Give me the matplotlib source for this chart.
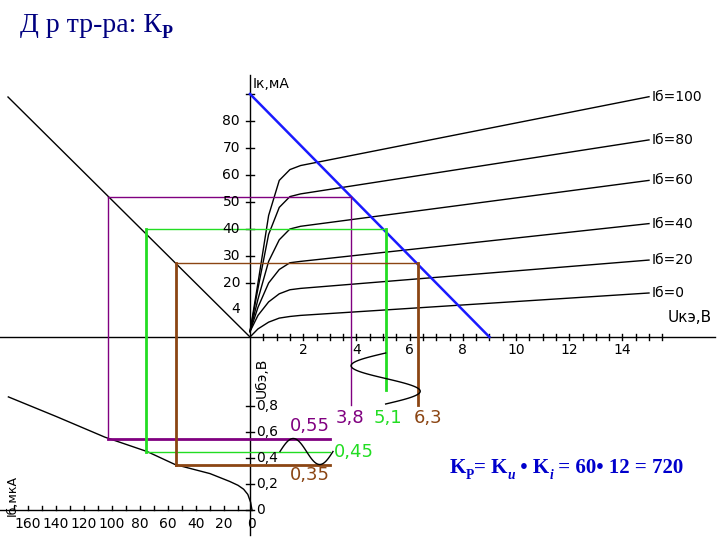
import numpy as np
import matplotlib.pyplot as plt

# output characteristics: Uce (V) points and Ic (mA) for each Ib
ib_labels = ["100", "80", "60", "40", "20", "0"]
uce_pts = [0.0, 0.3, 0.7, 1.1, 1.5, 1.9, 15.0]
ic_curves = [
    [2, 20, 45, 58, 62, 63.5, 89],
    [2, 18, 38, 48, 52, 53, 73],
    [2, 14, 28, 36, 40, 41, 58],
    [2, 11, 20, 25, 27.5, 28, 42],
    [2, 8, 13, 16, 17.5, 18, 28.5],
    [0, 3, 5.5, 7, 7.6, 8, 16.3],
]
# input characteristic: Ib (uA) vs Ube (V)
ib_in = [0, 1, 3, 6, 10, 16, 30, 55, 75, 105, 140, 174]
ube_in = [0.0, 0.06, 0.12, 0.16, 0.19, 0.22, 0.28, 0.35, 0.45, 0.56, 0.72, 0.87]
# working points: (Uce, Ic, Ib, Ube, colour)
points = [
    (3.8, 52, 103, 0.55, "#800080"),
    (5.1, 40, 76, 0.45, "#22dd22"),
    (6.3, 27.5, 54, 0.35, "#8B4513"),
]
uce_ticks = [2, 4, 6, 8, 10, 12, 14]
ic_ticks = [20, 30, 40, 50, 60, 70, 80]
ube_ticks = [0, 0.2, 0.4, 0.6, 0.8]
ib_ticks = [0, 20, 40, 60, 80, 100, 120, 140, 160]

# pixel mapping of the four quadrants
X0, Y0 = 250, 337
def ux(u): return X0 + 26.6 * np.asarray(u)
def iy(i): return Y0 - 2.7 * np.asarray(i)
def by(v): return 510 - 130 * np.asarray(v)
def bx(b): return 252 - 1.4 * np.asarray(b)

fig = plt.figure(figsize=(7.2, 5.4), dpi=100)
ax = fig.add_axes([0, 0, 1, 1])
ax.set_xlim(0, 720)
ax.set_ylim(540, 0)
ax.axis("off")
k = dict(color="black", lw=1)

# axes
ax.plot([250, 250], [75, 535], **k)
ax.plot([0, 715], [Y0, Y0], **k)
ax.plot([0, 252], [510, 510], **k)
for u in np.arange(0.5, 16, 0.5):
    ax.plot([ux(u)] * 2, [Y0 - 3, Y0 + 3], **k)
for u in uce_ticks:
    ax.text(ux(u), 350, str(u), ha="center", va="center", fontsize=10)
for i in ic_ticks:
    ax.plot([246, 254], [iy(i)] * 2, **k)
    ax.text(240, iy(i), str(i), ha="right", va="center", fontsize=10)
ax.text(240, 309, "4", ha="right", va="center", fontsize=10)
ax.plot([246, 254], [iy(90)] * 2, **k)
for v in ube_ticks:
    ax.plot([246, 254], [by(v)] * 2, **k)
    ax.text(256, by(v), str(v).replace(".", ","), ha="left", va="center", fontsize=10)
for b in np.arange(10, 175, 10):
    ax.plot([bx(b)] * 2, [506, 510], **k)
for b in ib_ticks:
    ax.text(bx(b), 524, str(b), ha="center", va="center", fontsize=10)
ax.text(253, 88, "Iк,мА", fontsize=10)
ax.text(668, 322, "Uкэ,В", fontsize=11)
ax.text(262, 378, "Uбэ,В", fontsize=10, rotation=90, ha="center", va="center")
ax.text(12, 495, "Iб,мкА", fontsize=9, rotation=90, ha="center", va="center")

# output curves
for lab, ic in zip(ib_labels, ic_curves):
    ax.plot(ux(uce_pts), iy(ic), **k)
    ax.text(ux(uce_pts[-1]) + 3, iy(ic[-1]), "Iб=" + lab, fontsize=10, va="center")

# transfer 45 deg line and input curve
ax.plot([8, 250], [97, 337], **k)
ax.plot(bx(ib_in), by(ube_in), **k)

# load line
ax.plot(ux([0, 9]), iy([90, 0]), color="#1a1aff", lw=1.8)

# working point projections
for n, (u, i, b, v, c) in enumerate(points):
    lw = 2 if n else 1
    ax.plot([bx(b), ux(u)], [iy(i), iy(i)], color=c, lw=1)
    ax.plot([ux(u), ux(u)], [iy(i), 405 if n != 1 else 390], color=c, lw=lw)
    ax.plot([bx(b), bx(b)], [iy(i), by(v)], color=c, lw=lw)
    ax.plot([bx(b), 330], [by(v), by(v)], color=c, lw=2 if n != 1 else 1)
ax.text(350, 418, "3,8", color="#800080", fontsize=13, ha="center", va="center")
ax.text(388, 418, "5,1", color="#22dd22", fontsize=13, ha="center", va="center")
ax.text(428, 418, "6,3", color="#8B4513", fontsize=13, ha="center", va="center")
ax.text(290, 426, "0,55", color="#800080", fontsize=13, va="center")
ax.text(334, 452, "0,45", color="#22dd22", fontsize=13, va="center")
ax.text(290, 475, "0,35", color="#8B4513", fontsize=13, va="center")

# signals
t = np.linspace(0, 2 * np.pi, 80)
ax.plot(280 + 53 * t / (2 * np.pi), by(0.45 + 0.1 * np.sin(t)), **k)
ax.plot(ux(5.1 - 1.3 * np.sin(t)), 353 + 51 * t / (2 * np.pi), **k)

# titles built from chained text pieces
def chain(pieces, x, y, color, big):
    prev = ax.text(x, y, pieces[0][0], fontsize=big, family="Liberation Serif",
                   color=color, va="bottom", **pieces[0][1])
    was_sub = False
    for s, kw in pieces[1:]:
        sub = kw.pop("sub", False)
        dy = -3 if sub else (3 if was_sub else 0)
        prev = ax.annotate(s, xy=(1, 0), xycoords=prev, xytext=(0, dy),
                           textcoords="offset points", va="bottom",
                           fontsize=big * 0.65 if sub else big,
                           family="Liberation Serif", color=color, **kw)
        was_sub = sub

chain([("Д р тр-ра: К", {}), ("P", dict(sub=True, weight="bold"))],
      20, 38, "#000080", 20)
chain([("K", dict(weight="bold")), ("P", dict(sub=True, weight="bold")),
       ("= K", dict(weight="bold")), ("и", dict(sub=True, weight="bold", style="italic")),
       (" • K", dict(weight="bold")), ("i", dict(sub=True, weight="bold", style="italic")),
       (" = 60• 12 = 720", dict(weight="bold"))],
      450, 478, "#0000cc", 15)

fig.savefig("out.png", dpi=100)
